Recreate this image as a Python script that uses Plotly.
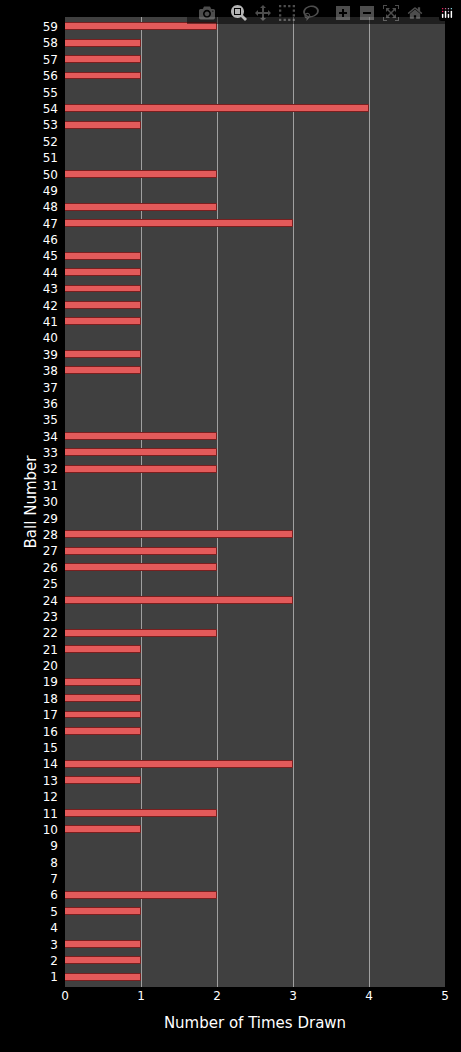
import plotly.graph_objects as go

balls = list(range(1, 60))
counts = [1, 1, 1, 0, 1, 2, 0, 0, 0, 1,
          2, 0, 1, 3, 0, 1, 1, 1, 1, 0,
          1, 2, 0, 3, 0, 2, 2, 3, 0, 0,
          0, 2, 2, 2, 0, 0, 0, 1, 1, 0,
          1, 1, 1, 1, 1, 0, 3, 2, 0, 2,
          0, 0, 1, 4, 0, 1, 1, 1, 2]

fig = go.Figure(go.Bar(
    x=counts, y=balls, orientation='h', width=0.42,
    marker=dict(color='#e35a5a', line=dict(color='#7a1f1f', width=1)),
))

fig.update_layout(
    width=461, height=1052,
    margin=dict(l=65, r=16, t=17, b=65),
    paper_bgcolor='black', plot_bgcolor='#404040',
    font=dict(family='DejaVu Sans', color='white', size=12),
    showlegend=False,
    bargap=0,
)
fig.update_xaxes(range=[0, 5], dtick=1, showgrid=True, gridcolor='#a0a0a0', gridwidth=1,
                 zeroline=False, ticks='', title=dict(text='Number of Times Drawn', font=dict(size=15)))
fig.update_yaxes(range=[0.4, 59.6], tickmode='array', tickvals=balls, showgrid=False,
                 zeroline=False, ticks='', ticklabelstandoff=6,
                 title=dict(text='Ball Number', font=dict(size=15), standoff=2))

fig.write_html("out.html",
               post_script="document.body.style.margin='0';document.body.style.background='black';")
